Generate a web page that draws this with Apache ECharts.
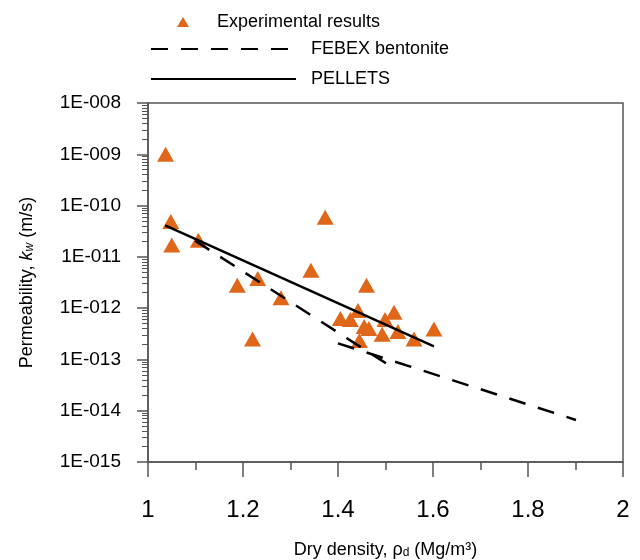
<!DOCTYPE html>
<html>
<head>
<meta charset="utf-8">
<script src="https://cdn.jsdelivr.net/npm/echarts@6/dist/echarts.min.js"></script>
<style>
  html, body { margin: 0; padding: 0; background: #fff; }
  #chart { width: 640px; height: 560px; }
</style>
</head>
<body>
<div id="chart"></div>
<script>
// experimental points (dry density Mg/m3, permeability m/s)
var expDensity = [1.037, 1.048, 1.050, 1.106, 1.188, 1.220, 1.231, 1.280, 1.343, 1.373,
    1.405, 1.426, 1.442, 1.445, 1.455, 1.460, 1.465, 1.493, 1.499, 1.518, 1.526, 1.560, 1.602];
var expPerm = [1.0e-9, 4.9e-11, 1.7e-11, 2.1e-11, 2.8e-12, 2.5e-13, 3.8e-12, 1.6e-12, 5.5e-12, 5.9e-11,
    6.3e-13, 6.0e-13, 9.0e-13, 2.35e-13, 4.4e-13, 2.8e-12, 4.0e-13, 3.1e-13, 6.0e-13, 8.3e-13, 3.5e-13, 2.5e-13, 3.9e-13];

// FEBEX bentonite curve (two pieces, null = break)
var febexDensity = [1.099, 1.501, null, 1.400, 1.901];
var febexPerm = [2.07e-11, 8.4e-14, null, 2.06e-13, 6.6e-15];

// PELLETS fit
var pelletsDensity = [1.036, 1.602];
var pelletsPerm = [4.1e-11, 1.8e-13];

var yMin = 1e-15, yMax = 1e-8;

// minor tick values 2..9 per decade
var minorTicks = [];
for (var e = -15; e < -8; e++) {
    for (var k = 2; k <= 9; k++) {
        minorTicks.push(k * Math.pow(10, e));
    }
}

function pairs(xs, ys) {
    var out = [];
    for (var i = 0; i < xs.length; i++) {
        if (xs[i] === null) out.push('-');
        else out.push([xs[i], ys[i]]);
    }
    return out;
}

var font = 'Liberation Sans, Arial, Helvetica, sans-serif';
var axisColor = '#555';
var clear = 'rgba(0,0,0,0)';

var chart = echarts.init(document.getElementById('chart'));

var option = {
    animation: false,
    textStyle: {fontFamily: font, color: '#000'},
    grid: {
        left: 148, right: 17, top: 103, bottom: 98,
        show: true, borderColor: axisColor, borderWidth: 1.5,
        containLabel: false, outerBoundsMode: 'none'
    },
    legend: [
        {
            data: ['Experimental results'],
            left: 177, top: 13, padding: 0,
            itemWidth: 12, itemHeight: 10,
            textStyle: {fontFamily: font, fontSize: 18, color: '#000', padding: [0, 0, 0, 23]}
        },
        {
            data: ['FEBEX bentonite'],
            left: 150, top: 40, padding: 0,
            itemWidth: 137, itemHeight: 12,
            itemStyle: {opacity: 0},
            textStyle: {fontFamily: font, fontSize: 18, color: '#000', padding: [0, 0, 0, 18]}
        },
        {
            data: ['PELLETS'],
            left: 150, top: 70, padding: 0,
            itemWidth: 145, itemHeight: 12,
            itemStyle: {opacity: 0},
            textStyle: {fontFamily: font, fontSize: 18, color: '#000', padding: [0, 0, 0, 10]}
        }
    ],
    xAxis: {
        type: 'value',
        min: 1, max: 2, interval: 0.2,
        name: 'Dry density, ρ{sub|d} (Mg/m³)',
        nameLocation: 'middle', nameGap: 79,
        nameTextStyle: {
            fontFamily: font, fontSize: 18, color: '#000',
            rich: {
                sub: {fontFamily: font, fontSize: 12, color: '#000', verticalAlign: 'bottom', lineHeight: 12}
            }
        },
        axisLine: {show: true, lineStyle: {color: axisColor, width: 1.5}},
        axisTick: {show: true, length: 15, lineStyle: {color: axisColor, width: 1.5}},
        minorTick: {show: true, splitNumber: 2, length: 8, lineStyle: {color: axisColor, width: 1.5}},
        axisLabel: {fontFamily: font, fontSize: 24, color: '#000', margin: 36},
        splitLine: {show: false}
    },
    yAxis: [
        {
            type: 'log', logBase: 10,
            min: yMin, max: yMax,
            name: 'Permeability, {i|k}{sub|w} (m/s)',
            nameLocation: 'middle', nameGap: 112,
            nameTextStyle: {
                fontFamily: font, fontSize: 18, color: '#000',
                rich: {
                    i: {fontFamily: font, fontSize: 18, fontStyle: 'italic', color: '#000'},
                    sub: {fontFamily: font, fontSize: 12, fontStyle: 'italic', color: '#000', verticalAlign: 'bottom', lineHeight: 12}
                }
            },
            axisLine: {show: true, lineStyle: {color: axisColor, width: 1.5}},
            axisTick: {show: true, length: 11, lineStyle: {color: axisColor, width: 1.5}},
            axisLabel: {
                fontFamily: font, fontSize: 19, color: '#000', margin: 27,
                formatter: function (v) {
                    var p = Math.round(Math.log10(v));
                    return '1E-' + String(-p).padStart(3, '0');
                }
            },
            splitLine: {show: false}
        },
        {
            type: 'log', logBase: 10,
            min: yMin, max: yMax,
            position: 'left',
            axisLine: {show: false},
            axisTick: {show: true, length: 6, customValues: minorTicks, lineStyle: {color: axisColor, width: 1}},
            axisLabel: {show: false},
            splitLine: {show: false}
        }
    ],
    series: [
        {
            name: 'Experimental results',
            type: 'scatter',
            symbol: 'triangle',
            symbolSize: [17, 15],
            itemStyle: {color: '#E0661A', opacity: 1},
            data: pairs(expDensity, expPerm),
            z: 2
        },
        {
            name: 'FEBEX bentonite',
            type: 'line',
            symbol: 'none',
            connectNulls: false,
            lineStyle: {color: '#000', width: 2.5, type: [17, 13]},
            itemStyle: {color: clear, borderColor: clear},
            data: pairs(febexDensity, febexPerm),
            z: 3
        },
        {
            name: 'PELLETS',
            type: 'line',
            symbol: 'none',
            lineStyle: {color: '#000', width: 2.5},
            itemStyle: {color: clear, borderColor: clear},
            data: pairs(pelletsDensity, pelletsPerm),
            z: 3
        }
    ]
};

chart.setOption(option);
</script>
</body>
</html>
